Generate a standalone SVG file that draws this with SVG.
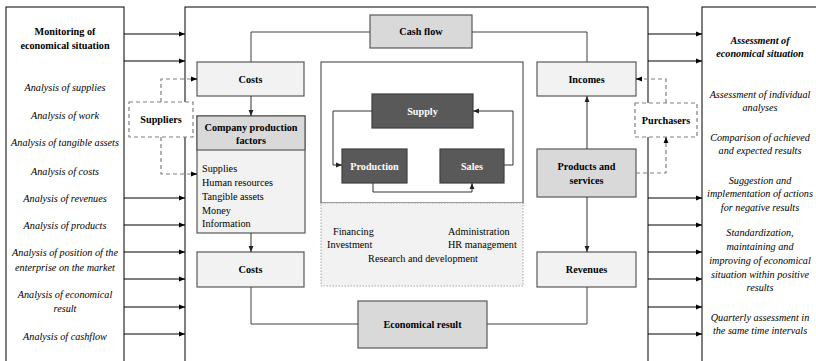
<svg xmlns="http://www.w3.org/2000/svg" width="816" height="361" viewBox="0 0 816 361" font-family="'Liberation Serif', 'DejaVu Serif', serif">
<defs>
<marker id="ah" viewBox="0 0 10 10" refX="10" refY="5" markerWidth="6" markerHeight="6" orient="auto" markerUnits="userSpaceOnUse"><path d="M0,1 L10,5 L0,9 z" fill="#000"/></marker>
<marker id="ahg" viewBox="0 0 10 10" refX="10" refY="5" markerWidth="6" markerHeight="6" orient="auto" markerUnits="userSpaceOnUse"><path d="M0,1 L10,5 L0,9 z" fill="#222"/></marker>
</defs>
<style>
text{font-family:'Liberation Serif','DejaVu Serif',serif;font-size:10.2px;fill:#000}
.b{font-weight:bold}
.i{font-style:italic}
.c{text-anchor:middle}
.w{fill:#fff}
.frame{fill:#fff;stroke:#000;stroke-width:1}
.lt{fill:#f2f2f2;stroke:#595959;stroke-width:1.2}
.md{fill:#d9d9d9;stroke:#595959;stroke-width:1.2}
.dk{fill:#595959;stroke:#404040;stroke-width:1.2}
.ln{fill:none;stroke:#404040;stroke-width:1}
.arr{fill:none;stroke:#000;stroke-width:1;marker-end:url(#ah)}
.garr{fill:none;stroke:#333;stroke-width:1;marker-end:url(#ahg)}
.dash{fill:none;stroke:#808080;stroke-width:1.2;stroke-dasharray:4,3}
.dashbox{fill:#fff;stroke:#808080;stroke-width:1.2;stroke-dasharray:4,3}
</style>
<rect width="816" height="361" fill="#fff"/>

<g id="left-panel">
<rect class="frame" x="6" y="7" width="118" height="360"/>
<text class="b c" x="65" y="35">Monitoring of</text>
<text class="b c" x="65" y="49">economical situation</text>
<text class="i c" x="65" y="91">Analysis of supplies</text>
<text class="i c" x="65" y="119">Analysis of work</text>
<text class="i c" x="65" y="146">Analysis of tangible assets</text>
<text class="i c" x="65" y="175">Analysis of costs</text>
<text class="i c" x="65" y="202">Analysis of revenues</text>
<text class="i c" x="65" y="229">Analysis of products</text>
<text class="i c" x="65" y="256">Analysis of position of the</text>
<text class="i c" x="65" y="271">enterprise on the market</text>
<text class="i c" x="65" y="298">Analysis of economical</text>
<text class="i c" x="65" y="312">result</text>
<text class="i c" x="65" y="340">Analysis of cashflow</text>
</g>

<g id="main-panel">
<rect class="frame" x="185" y="7" width="463" height="360"/>
</g>

<g id="right-panel">
<rect class="frame" x="702" y="7" width="130" height="360"/>
<text class="b i c" x="760" y="44">Assessment of</text>
<text class="b i c" x="760" y="57">economical situation</text>
<text class="i c" x="760" y="98">Assessment of individual</text>
<text class="i c" x="760" y="111">analyses</text>
<text class="i c" x="760" y="141">Comparison of achieved</text>
<text class="i c" x="760" y="154">and expected results</text>
<text class="i c" x="760" y="184">Suggestion and</text>
<text class="i c" x="760" y="197">implementation of actions</text>
<text class="i c" x="760" y="211">for negative results</text>
<text class="i c" x="760" y="236">Standardization,</text>
<text class="i c" x="760" y="250">maintaining and</text>
<text class="i c" x="760" y="264">improving of economical</text>
<text class="i c" x="760" y="278">situation within positive</text>
<text class="i c" x="760" y="291">results</text>
<text class="i c" x="760" y="321">Quarterly assessment in</text>
<text class="i c" x="760" y="334">the same time intervals</text>
</g>

<g id="cash-flow">
<rect class="md" x="370" y="15" width="102" height="33"/>
<text class="b c" x="421" y="35">Cash flow</text>
</g>

<g id="costs-top">
<rect class="lt" x="197" y="62" width="107" height="34"/>
<text class="b c" x="250.5" y="83">Costs</text>
</g>

<g id="company-production-factors">
<rect class="lt" x="197" y="116" width="108" height="117"/>
<rect class="md" x="197" y="116" width="108" height="34"/>
<text class="b c" x="251" y="131">Company production</text>
<text class="b c" x="251" y="144">factors</text>
<text x="202" y="172">Supplies</text>
<text x="202" y="186">Human resources</text>
<text x="202" y="200">Tangible assets</text>
<text x="202" y="214">Money</text>
<text x="202" y="227">Information</text>
</g>

<g id="costs-bottom">
<rect class="lt" x="197" y="252" width="107" height="35"/>
<text class="b c" x="250.5" y="273">Costs</text>
</g>

<g id="economical-result">
<rect class="md" x="358" y="301" width="129" height="47"/>
<text class="b c" x="422.5" y="328">Economical result</text>
</g>

<g id="core-process">
<rect x="321" y="62" width="202" height="141" fill="#fff" stroke="#595959" stroke-width="1.2"/>
<rect x="321" y="203" width="202" height="83" fill="#f2f2f2" stroke="#a6a6a6" stroke-width="1" stroke-dasharray="1.5,1.5"/>
<text x="333" y="235">Financing</text>
<text x="448" y="235">Administration</text>
<text x="327" y="248">Investment</text>
<text x="448" y="248">HR management</text>
<text class="c" x="423" y="262">Research and development</text>
</g>

<g id="supply">
<rect class="dk" x="372" y="94" width="101" height="34"/>
<text class="b c w" x="422.5" y="115">Supply</text>
</g>

<g id="production">
<rect class="dk" x="342" y="149" width="65" height="34"/>
<text class="b c w" x="374.5" y="170">Production</text>
</g>

<g id="sales">
<rect class="dk" x="440" y="149" width="64" height="34"/>
<text class="b c w" x="472" y="170">Sales</text>
</g>

<g id="incomes">
<rect class="lt" x="537" y="62" width="99" height="34"/>
<text class="b c" x="586.5" y="83">Incomes</text>
</g>

<g id="products-and-services">
<rect class="md" x="537" y="149" width="99" height="48"/>
<text class="b c" x="586.5" y="170">Products and</text>
<text class="b c" x="586.5" y="184">services</text>
</g>

<g id="revenues">
<rect class="lt" x="537" y="252" width="99" height="35"/>
<text class="b c" x="586.5" y="273">Revenues</text>
</g>

<g id="connectors">
<path class="arr" d="M124,34 H185"/>
<path class="arr" d="M124,61 H185"/>
<path class="arr" d="M124,198 H185"/>
<path class="arr" d="M124,225 H185"/>
<path class="arr" d="M124,252 H185"/>
<path class="arr" d="M124,279 H185"/>
<path class="arr" d="M124,307 H185"/>
<path class="arr" d="M124,334 H185"/>
<path class="arr" d="M648,34 H702"/>
<path class="arr" d="M648,61 H702"/>
<path class="arr" d="M648,198 H702"/>
<path class="arr" d="M648,225 H702"/>
<path class="arr" d="M648,252 H702"/>
<path class="arr" d="M648,279 H702"/>
<path class="arr" d="M648,307 H702"/>
<path class="arr" d="M648,334 H702"/>
<path class="ln" d="M370,32 H251 V62"/>
<path class="ln" d="M472,32 H587 V62"/>
<path class="garr" d="M251,96 V116"/>
<path class="garr" d="M251,233 V252"/>
<path class="ln" d="M251,287 V324 H358"/>
<path class="ln" d="M487,324 H587 V287"/>
<path class="garr" d="M587,149 V96"/>
<path class="garr" d="M587,197 V252"/>
<path class="garr" d="M372,111 H333 V165 H342"/>
<path class="garr" d="M373,183 V192 H472 V183"/>
<path class="garr" d="M504,165 H513 V111 H473"/>
<path class="dash" d="M161,102 V79 H193"/>
<path class="arr" d="M192,79 H197"/>
<path class="dash" d="M161,137 V174 H193"/>
<path class="arr" d="M192,174 H197"/>
<path class="dash" d="M636,173 H666 V142"/>
<path class="arr" d="M666,143 V137"/>
<path class="dash" d="M666,103 V79 H641"/>
<path class="arr" d="M642,79 H636"/>
</g>

<g id="suppliers">
<rect class="dashbox" x="129" y="102" width="64" height="35"/>
<text class="b c" x="161" y="123">Suppliers</text>
</g>

<g id="purchasers">
<rect class="dashbox" x="635" y="103" width="62" height="34"/>
<text class="b c" x="666" y="124">Purchasers</text>
</g>
</svg>
